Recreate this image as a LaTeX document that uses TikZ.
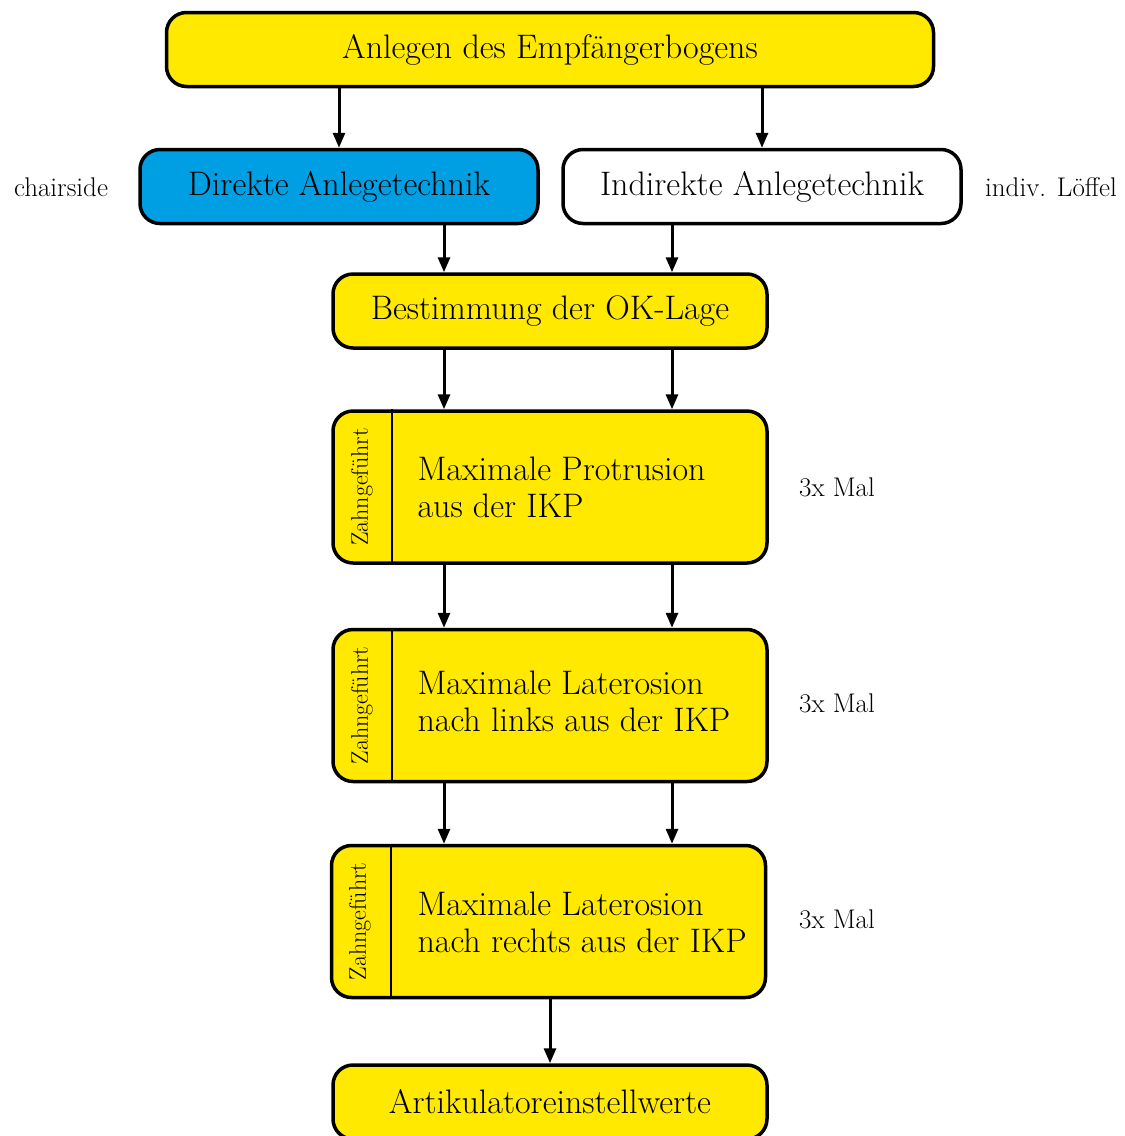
\documentclass[tikz,border=0pt]{standalone}
\usetikzlibrary{arrows.meta}

\definecolor{gelb}{RGB}{255,233,0}
\definecolor{blau}{RGB}{0,159,227}

\tikzset{
  kasten/.style={draw=black, fill=gelb, line width=3.5pt, rounded corners=20pt,
    minimum height=74pt, inner sep=0pt, font=\fontsize{34}{40}\selectfont},
  hochkasten/.style={kasten, minimum width=434pt, minimum height=152pt},
  pfeil/.style={line width=3pt, -{Triangle[length=15pt,width=12pt]}},
  notiz/.style={font=\fontsize{27}{32}\selectfont},
  seite/.style={rotate=90, font=\fontsize{24}{28}\selectfont},
  inhalt/.style={anchor=west, align=left, font=\fontsize{34}{37}\selectfont}
}

\begin{document}
\begin{tikzpicture}[x=1pt, y=-1pt]
    \useasboundingbox (0,0) rectangle (1125,1136);

    \node[kasten, minimum width=767pt] (anlegen) at (550,49.5) {Anlegen des Empfängerbogens};
    \node[kasten, fill=blau, minimum width=398pt] (direkt) at (339,186.5) {Direkte Anlegetechnik};
    \node[kasten, fill=white, minimum width=398pt] (indirekt) at (762,186.5) {Indirekte Anlegetechnik};
    \node[notiz] (chairside) at (61,187) {chairside};
    \node[notiz] (loeffel) at (1051,187) {indiv. Löffel};

    \node[kasten, minimum width=434pt] (okLage) at (550,311) {Bestimmung der OK-Lage};

    % zahngefuehrte Bewegungen
    \node[hochkasten] (protrusion) at (550,487) {};
    \draw[line width=2pt] ([xshift=61pt]protrusion.north west) -- ([xshift=61pt]protrusion.south west);
    \node[seite] (zahnA) at (362,487) {Zahngeführt};
    \node[inhalt] (textA) at (414,487) {Maximale Protrusion\\aus der IKP};
    \node[notiz] (malA) at (837,487) {3x Mal};

    \node[hochkasten] (latLinks) at (550,705.5) {};
    \draw[line width=2pt] ([xshift=61pt]latLinks.north west) -- ([xshift=61pt]latLinks.south west);
    \node[seite] (zahnB) at (362,705.5) {Zahngeführt};
    \node[inhalt] (textB) at (414,701) {Maximale Laterosion\\nach links aus der IKP};
    \node[notiz] (malB) at (837,703) {3x Mal};

    \node[hochkasten] (latRechts) at (548.5,921.5) {};
    \draw[line width=2pt] ([xshift=61pt]latRechts.north west) -- ([xshift=61pt]latRechts.south west);
    \node[seite] (zahnC) at (360,921.5) {Zahngeführt};
    \node[inhalt] (textC) at (414,922) {Maximale Laterosion\\nach rechts aus der IKP};
    \node[notiz] (malC) at (837,919) {3x Mal};

    \node[kasten, minimum width=434pt] (artikulator) at (550,1102) {Artikulatoreinstellwerte};

    \coordinate (links) at (444,0);
    \coordinate (rechts) at (672,0);

    \draw[pfeil] (direkt.north |- anlegen.south) -- (direkt.north);
    \draw[pfeil] (indirekt.north |- anlegen.south) -- (indirekt.north);
    \draw[pfeil] (direkt.south -| links) -- (okLage.north -| links);
    \draw[pfeil] (indirekt.south -| rechts) -- (okLage.north -| rechts);
    \draw[pfeil] (okLage.south -| links) -- (protrusion.north -| links);
    \draw[pfeil] (okLage.south -| rechts) -- (protrusion.north -| rechts);
    \draw[pfeil] (protrusion.south -| links) -- (latLinks.north -| links);
    \draw[pfeil] (protrusion.south -| rechts) -- (latLinks.north -| rechts);
    \draw[pfeil] (latLinks.south -| links) -- (latRechts.north -| links);
    \draw[pfeil] (latLinks.south -| rechts) -- (latRechts.north -| rechts);
    \draw[pfeil] (latRechts.south -| artikulator.north) -- (artikulator.north);
\end{tikzpicture}
\end{document}
